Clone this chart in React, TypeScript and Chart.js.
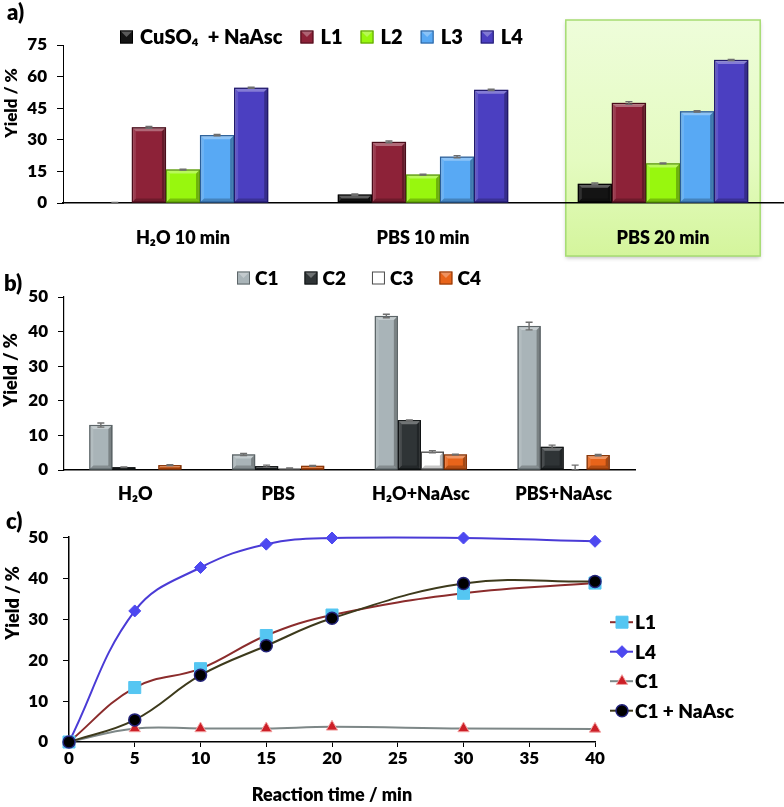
import React, { useEffect, useRef } from 'react';
import { Chart, registerables } from 'chart.js';
import { drawPoint } from 'chart.js/helpers';

Chart.register(...registerables);

const FONT = 'Lato, "Noto Sans", "DejaVu Sans", sans-serif';
const W = 800;
Chart.defaults.font.family = FONT;
Chart.defaults.color = '#000';

// ---------- Panel a ----------
const catsA = ['H₂O 10 min', 'PBS 10 min', 'PBS 20 min'];
const seriesNamesA = ['CuSO₄  + NaAsc', 'L1', 'L2', 'L3', 'L4'];
const cuso4NaAscA = [0.1, 4.0, 9.1];
const l1A = [35.9, 29.0, 47.5];
const l2A = [15.9, 13.5, 18.8];
const l3A = [32.2, 22.0, 43.5];
const l4A = [54.7, 53.7, 67.9];
const errCuso4A = [0.2, 0.3, 0.4];
const errL1A = [0.4, 0.4, 0.6];
const errL2A = [0.2, 0.2, 0.2];
const errL3A = [0.3, 0.5, 0.3];
const errL4A = [0.3, 0.3, 0.3];
const yTicksA = [0, 15, 30, 45, 60, 75];

// ---------- Panel b ----------
const catsB = ['H₂O', 'PBS', 'H₂O+NaAsc', 'PBS+NaAsc'];
const seriesNamesB = ['C1', 'C2', 'C3', 'C4'];
const c1B = [13.0, 4.5, 44.5, 41.6];
const c2B = [0.8, 1.1, 14.4, 6.7];
const c3B = [0, 0.5, 5.3, 0.2];
const c4B = [1.4, 1.2, 4.5, 4.3];
const errC1B = [0.6, 0.3, 0.5, 1.1];
const errC2B = [0.1, 0.3, 0.1, 0.5];
const errC3B = [0, 0.1, 0.3, 1.2];
const errC4B = [0.1, 0.1, 0.1, 0.2];
const yTicksB = [0, 10, 20, 30, 40, 50];

// ---------- Panel c ----------
const timeC = [0, 5, 10, 15, 20, 30, 40];
const seriesNamesC = ['L1', 'L4', 'C1', 'C1 + NaAsc'];
const l1C = [0, 13.3, 17.9, 26.0, 31.0, 36.3, 38.8];
const l4C = [0, 32.0, 42.6, 48.3, 49.8, 49.8, 49.0];
const c1C = [0, 3.3, 3.3, 3.3, 3.7, 3.3, 3.2];
const c1NaAscC = [0, 5.4, 16.3, 23.5, 30.2, 38.7, 39.2];
const xTicksC = [0, 5, 10, 15, 20, 25, 30, 35, 40];
const yTicksC = [0, 10, 20, 30, 40, 50];

const yTitle = 'Yield / %';
const xTitleC = 'Reaction time / min';

// ---------- plugins ----------
function bevelPlugin() {
  return {
    id: 'bevel',
    afterDatasetsDraw(chart: any) {
      const ctx = chart.ctx;
      chart.data.datasets.forEach((ds: any, di: number) => {
        const meta = chart.getDatasetMeta(di);
        meta.data.forEach((bar: any) => {
          const { x, y, base, width } = bar.getProps(['x', 'y', 'base', 'width'], true);
          const h = base - y;
          if (h < 1.5) return;
          const l = x - width / 2;
          const r = x + width / 2;
          const b = Math.min(4, h / 2);
          ctx.save();
          ctx.fillStyle = 'rgba(255,255,255,0.32)';
          ctx.beginPath();
          ctx.moveTo(l, y); ctx.lineTo(r, y); ctx.lineTo(r - b, y + b); ctx.lineTo(l + b, y + b);
          ctx.closePath(); ctx.fill();
          ctx.fillStyle = 'rgba(255,255,255,0.12)';
          ctx.beginPath();
          ctx.moveTo(l, y); ctx.lineTo(l + b, y + b); ctx.lineTo(l + b, base - b); ctx.lineTo(l, base);
          ctx.closePath(); ctx.fill();
          ctx.fillStyle = 'rgba(0,0,0,0.28)';
          ctx.beginPath();
          ctx.moveTo(r, y); ctx.lineTo(r - b, y + b); ctx.lineTo(r - b, base - b); ctx.lineTo(r, base);
          ctx.closePath(); ctx.fill();
          ctx.fillStyle = 'rgba(0,0,0,0.22)';
          ctx.beginPath();
          ctx.moveTo(l, base); ctx.lineTo(l + b, base - b); ctx.lineTo(r - b, base - b); ctx.lineTo(r, base);
          ctx.closePath(); ctx.fill();
          ctx.strokeStyle = ds.borderColor;
          ctx.lineWidth = 1.2;
          ctx.strokeRect(l + 0.5, y + 0.5, width - 1, h - 1);
          ctx.restore();
        });
      });
    },
  };
}

function errorBarPlugin(errs: number[][]) {
  return {
    id: 'errbars',
    afterDatasetsDraw(chart: any) {
      const ctx = chart.ctx;
      const ys = chart.scales.y;
      errs.forEach((arr, di) => {
        const meta = chart.getDatasetMeta(di);
        meta.data.forEach((bar: any, i: number) => {
          const e = arr[i];
          if (!e) return;
          const v = chart.data.datasets[di].data[i] as number;
          const x = bar.x;
          const y1 = ys.getPixelForValue(Math.max(0, v - e));
          const y2 = ys.getPixelForValue(v + e);
          ctx.save();
          ctx.strokeStyle = '#6e6e6e';
          ctx.lineWidth = 1.4;
          ctx.beginPath();
          ctx.moveTo(x, y1); ctx.lineTo(x, y2);
          ctx.moveTo(x - 3.5, y2); ctx.lineTo(x + 3.5, y2);
          ctx.moveTo(x - 3.5, y1); ctx.lineTo(x + 3.5, y1);
          ctx.stroke();
          ctx.restore();
        });
      });
    },
  };
}

function boxLegendPlugin(startX: number, cy: number, fontSize: number, textOff: number, gap: number) {
  return {
    id: 'boxlegend',
    afterDraw(chart: any) {
      const ctx = chart.ctx;
      ctx.save();
      ctx.font = `${W} ${fontSize}px ${FONT}`;
      ctx.textBaseline = 'middle';
      let x = startX;
      chart.data.datasets.forEach((ds: any) => {
        const s = 13;
        ctx.fillStyle = ds.backgroundColor;
        ctx.fillRect(x, cy - s / 2, s, s);
        ctx.fillStyle = 'rgba(255,255,255,0.3)';
        ctx.beginPath();
        ctx.moveTo(x, cy - s / 2); ctx.lineTo(x + s, cy - s / 2); ctx.lineTo(x + s / 2, cy); ctx.closePath(); ctx.fill();
        ctx.strokeStyle = ds.borderColor;
        ctx.lineWidth = 1;
        ctx.strokeRect(x + 0.5, cy - s / 2 + 0.5, s - 1, s - 1);
        ctx.fillStyle = '#000';
        ctx.fillText(ds.label, x + textOff, cy + 1);
        x += textOff + ctx.measureText(ds.label).width + gap;
      });
      ctx.restore();
    },
  };
}

function yTitlePlugin(x: number, y: number, size: number) {
  return {
    id: 'ytitle',
    afterDraw(chart: any) {
      const ctx = chart.ctx;
      ctx.save();
      ctx.translate(x, y);
      ctx.rotate(-Math.PI / 2);
      ctx.font = `${W} ${size}px ${FONT}`;
      ctx.textAlign = 'center';
      ctx.textBaseline = 'middle';
      ctx.fillStyle = '#000';
      ctx.fillText(yTitle, 0, 0);
      ctx.restore();
    },
  };
}

const highlightPlugin = {
  id: 'highlight',
  beforeDraw(chart: any) {
    const ctx = chart.ctx;
    const xs = chart.scales.x;
    const ca = chart.chartArea;
    const cat = xs.width / catsA.length;
    const cx = xs.getPixelForValue(2);
    const half = cat * 0.405;
    const top = ca.top - 25;
    const bottom = ca.bottom + 53;
    ctx.save();
    const g = ctx.createLinearGradient(0, top, 0, bottom);
    g.addColorStop(0, '#eefdda');
    g.addColorStop(0.6, '#e4fbc0');
    g.addColorStop(1, '#d4f59c');
    ctx.shadowColor = 'rgba(0,0,0,0.25)';
    ctx.shadowBlur = 4;
    ctx.shadowOffsetY = 2;
    ctx.fillStyle = g;
    ctx.fillRect(cx - half, top, half * 2, bottom - top);
    ctx.shadowColor = 'transparent';
    ctx.strokeStyle = '#a6dc72';
    ctx.lineWidth = 1.5;
    ctx.strokeRect(cx - half, top, half * 2, bottom - top);
    ctx.restore();
  },
};

const lineLegendPlugin = {
  id: 'linelegend',
  afterDraw(chart: any) {
    const ctx = chart.ctx;
    const ca = chart.chartArea;
    let y = ca.top + 85;
    ctx.save();
    chart.data.datasets.forEach((ds: any) => {
      const x0 = ca.right + 15;
      ctx.strokeStyle = ds.borderColor;
      ctx.lineWidth = 2;
      ctx.beginPath();
      ctx.moveTo(x0, y); ctx.lineTo(x0 + 23, y); ctx.stroke();
      ctx.fillStyle = ds.pointBackgroundColor;
      ctx.strokeStyle = ds.pointBorderColor;
      ctx.lineWidth = ds.pointBorderWidth;
      drawPoint(ctx, { pointStyle: ds.pointStyle, radius: ds.pointRadius, rotation: 0, borderWidth: ds.pointBorderWidth } as any, x0 + 12, y);
      ctx.fillStyle = '#000';
      ctx.font = `${W} 19px ${FONT}`;
      ctx.textBaseline = 'middle';
      ctx.fillText(ds.label, x0 + 25, y + 1);
      y += 29.5;
    });
    ctx.restore();
  },
};

// ---------- chart builders ----------
function makeA(canvas: HTMLCanvasElement) {
  const mk = (i: number, data: number[], bg: string, bd: string) => ({
    label: seriesNamesA[i], data, backgroundColor: bg, borderColor: bd, borderWidth: 1.2,
  });
  return new Chart(canvas, {
    type: 'bar',
    data: {
      labels: catsA,
      datasets: [
        mk(0, cuso4NaAscA, '#141414', '#000000'),
        mk(1, l1A, '#8d2238', '#4a0d1a'),
        mk(2, l2A, '#98f70e', '#5a9a05'),
        mk(3, l3A, '#58a9f4', '#2a5f9a'),
        mk(4, l4A, '#4b3fc1', '#221a6e'),
      ],
    },
    options: {
      responsive: false,
      animation: false,
      devicePixelRatio: 1,
      layout: { padding: { top: 45, right: 1, left: 0, bottom: 0 } },
      datasets: { bar: { categoryPercentage: 0.71, barPercentage: 1 } },
      plugins: { legend: { display: false }, tooltip: { enabled: false } },
      scales: {
        x: {
          grid: { display: true, drawOnChartArea: false, drawTicks: false },
          border: { display: true, color: '#000', width: 1.5 },
          ticks: { font: { size: 18, weight: W }, color: '#000', padding: 24 },
          afterFit: (s: any) => { s.height = 59; },
        },
        y: {
          min: 0, max: 75,
          afterBuildTicks: (s: any) => { s.ticks = yTicksA.map((v) => ({ value: v })); },
          grid: { display: true, drawOnChartArea: false, tickLength: 6, color: '#000' },
          border: { display: true, color: '#000', width: 1 },
          ticks: { font: { size: 17, weight: W }, color: '#000', padding: 10 },
          afterFit: (s: any) => { s.width = 63; },
        },
      },
    } as any,
    plugins: [
      highlightPlugin,
      bevelPlugin(),
      errorBarPlugin([errCuso4A, errL1A, errL2A, errL3A, errL4A]),
      boxLegendPlugin(120, 37, 20, 20, 18),
      yTitlePlugin(12, 103, 17),
    ],
  });
}

function makeB(canvas: HTMLCanvasElement) {
  const mk = (i: number, data: number[], bg: string, bd: string) => ({
    label: seriesNamesB[i], data, backgroundColor: bg, borderColor: bd, borderWidth: 1.2,
  });
  return new Chart(canvas, {
    type: 'bar',
    data: {
      labels: catsB,
      datasets: [
        mk(0, c1B, '#a9b4b8', '#5d6669'),
        mk(1, c2B, '#2f3436', '#101314'),
        mk(2, c3B, '#ffffff', '#4a4a4a'),
        mk(3, c4B, '#e8641a', '#8a3608'),
      ],
    },
    options: {
      responsive: false,
      animation: false,
      devicePixelRatio: 1,
      layout: { padding: { top: 35, right: 149, left: 0, bottom: 0 } },
      datasets: { bar: { categoryPercentage: 0.645, barPercentage: 1 } },
      plugins: { legend: { display: false }, tooltip: { enabled: false } },
      scales: {
        x: {
          grid: { display: true, drawOnChartArea: false, drawTicks: false },
          border: { display: true, color: '#000', width: 1.5 },
          ticks: { font: { size: 18, weight: W }, color: '#000', padding: 13 },
          afterFit: (s: any) => { s.height = 42; },
        },
        y: {
          min: 0, max: 50,
          afterBuildTicks: (s: any) => { s.ticks = yTicksB.map((v) => ({ value: v })); },
          grid: { display: true, drawOnChartArea: false, tickLength: 6, color: '#000' },
          border: { display: true, color: '#000', width: 1.2 },
          ticks: { font: { size: 17, weight: W }, color: '#000', padding: 10 },
          afterFit: (s: any) => { s.width = 64; },
        },
      },
    } as any,
    plugins: [
      bevelPlugin(),
      errorBarPlugin([errC1B, errC2B, errC3B, errC4B]),
      boxLegendPlugin(237, 16, 19, 18, 26),
      yTitlePlugin(11, 108, 18),
    ],
  });
}

function makeC(canvas: HTMLCanvasElement) {
  const pts = (ys: number[]) => timeC.map((t, i) => ({ x: t, y: ys[i] }));
  return new Chart(canvas, {
    type: 'line',
    data: {
      datasets: [
        {
          label: seriesNamesC[0], data: pts(l1C), borderColor: '#8b2c2c', borderWidth: 2,
          pointStyle: 'rect', pointRadius: 8.5, pointBackgroundColor: '#55c6f2', pointBorderColor: '#55c6f2',
          pointBorderWidth: 1, tension: 0.4, order: 2, clip: false,
        },
        {
          label: seriesNamesC[1], data: pts(l4C), borderColor: '#4a3bd6', borderWidth: 2,
          pointStyle: 'rectRot', pointRadius: 6, pointBackgroundColor: '#4d48f0', pointBorderColor: '#4d48f0',
          pointBorderWidth: 1, tension: 0.4, order: 3, clip: false,
        },
        {
          label: seriesNamesC[2], data: pts(c1C), borderColor: '#7d8787', borderWidth: 2,
          pointStyle: 'triangle', pointRadius: 6.5, pointBackgroundColor: '#cc1f27', pointBorderColor: '#f2a0a0',
          pointBorderWidth: 1, tension: 0.4, order: 1, clip: false,
        },
        {
          label: seriesNamesC[3], data: pts(c1NaAscC), borderColor: '#3d3a1c', borderWidth: 2,
          pointStyle: 'circle', pointRadius: 6, pointBackgroundColor: '#000000', pointBorderColor: '#23237a',
          pointBorderWidth: 1.5, tension: 0.4, order: 0, clip: false,
        },
      ],
    },
    options: {
      responsive: false,
      animation: false,
      devicePixelRatio: 1,
      layout: { padding: { top: 21, right: 189, left: 0, bottom: 0 } },
      plugins: { legend: { display: false }, tooltip: { enabled: false } },
      scales: {
        x: {
          type: 'linear', min: 0, max: 40,
          afterBuildTicks: (s: any) => { s.ticks = xTicksC.map((v) => ({ value: v })); },
          grid: { display: true, drawOnChartArea: false, tickLength: 5, color: '#000' },
          border: { display: true, color: '#000', width: 1.5 },
          ticks: { font: { size: 17, weight: W }, color: '#000', padding: 1 },
          title: { display: true, text: xTitleC, font: { size: 18, weight: W }, color: '#000', padding: { top: 4, bottom: 1 } },
          afterFit: (s: any) => { s.height = 65; },
        },
        y: {
          min: 0, max: 50,
          afterBuildTicks: (s: any) => { s.ticks = yTicksC.map((v) => ({ value: v })); },
          grid: { display: true, drawOnChartArea: false, tickLength: 6, color: '#000' },
          border: { display: true, color: '#000', width: 1.5 },
          ticks: { font: { size: 17, weight: W }, color: '#000', padding: 15 },
          afterFit: (s: any) => { s.width = 69; },
        },
      },
    } as any,
    plugins: [lineLegendPlugin, yTitlePlugin(13, 91, 18)],
  });
}

function ChartCanvas({ top, height, make }: { top: number; height: number; make: (c: HTMLCanvasElement) => Chart }) {
  const ref = useRef<HTMLCanvasElement>(null);
  useEffect(() => {
    const chart = make(ref.current!);
    return () => chart.destroy();
  }, []);
  return (
    <canvas
      ref={ref}
      width={784}
      height={height}
      style={{ position: 'absolute', left: 0, top, width: 784, height, display: 'block' }}
    />
  );
}

const labelStyle = (left: number, top: number): React.CSSProperties => ({
  position: 'absolute', left, top, fontFamily: FONT, fontWeight: W, fontSize: 22, lineHeight: '22px', color: '#000',
});

export default function App() {
  return (
    <div style={{ position: 'absolute', left: 0, top: 0, width: 784, height: 807, background: '#fff', overflow: 'hidden' }}>
      <ChartCanvas top={0} height={262} make={makeA} />
      <ChartCanvas top={262} height={250} make={makeB} />
      <ChartCanvas top={512} height={295} make={makeC} />
      <div style={labelStyle(7, 1)}>a)</div>
      <div style={labelStyle(4, 272)}>b)</div>
      <div style={labelStyle(6, 510)}>c)</div>
    </div>
  );
}
